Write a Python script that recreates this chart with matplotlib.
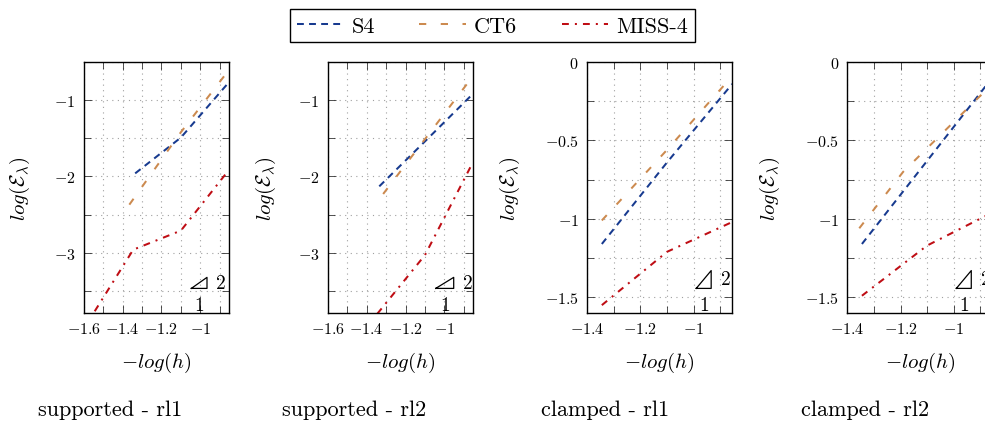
import matplotlib
matplotlib.use("Agg")
import matplotlib.pyplot as plt
from matplotlib.ticker import MultipleLocator, FuncFormatter
from matplotlib.lines import Line2D

# Captions under each panel
panel_titles = ['supported - rl1', 'supported - rl2', 'clamped - rl1', 'clamped - rl2']

# -log(h) and log(E_lambda) for each series, one list per panel
s4_x = [[-1.335, -1.1, -0.855], [-1.335, -1.1, -0.855],
        [-1.345, -1.1, -0.855], [-1.345, -1.1, -0.855]]
s4_y = [[-1.96, -1.49, -0.77], [-2.13, -1.54, -0.92],
        [-1.16, -0.64, -0.14], [-1.16, -0.63, -0.10]]

ct6_x = [[-1.365, -1.1, -0.855], [-1.315, -1.1, -0.855],
         [-1.345, -1.1, -0.855], [-1.355, -1.19, -0.855]]
ct6_y = [[-2.37, -1.42, -0.61], [-2.23, -1.51, -0.69],
         [-1.01, -0.56, -0.09], [-1.06, -0.70, -0.14]]

miss_x = [[-1.6, -1.345, -1.1, -0.855], [-1.345, -1.1, -0.855],
          [-1.345, -1.1, -0.855], [-1.345, -1.1, -0.855]]
miss_y = [[-4.0, -2.96, -2.71, -1.92], [-3.8, -3.03, -1.82],
          [-1.55, -1.21, -1.02], [-1.49, -1.17, -0.96]]

series_labels = ['S4', 'CT6', 'MISS-4']

# axis limits per panel
x_limits = [(-1.6, -0.855), (-1.6, -0.855), (-1.4, -0.855), (-1.4, -0.855)]
y_limits = [(-3.79, -0.5), (-3.79, -0.5), (-1.6, 0.0), (-1.6, 0.0)]
y_major = [1.0, 1.0, 0.5, 0.5]

# styles
colors = ['#173a8f', '#cc8a4f', '#bf0d14']
dashes = [(0, (3.4, 2.6)), (0, (3.6, 7.2)), (0, (3.4, 3.0, 1.0, 3.0))]
lw = 1.45

plt.rcParams['font.family'] = 'serif'
plt.rcParams['font.serif'] = ['cmr10']
plt.rcParams['mathtext.fontset'] = 'cm'
plt.rcParams['axes.formatter.use_mathtext'] = True
plt.rcParams['axes.unicode_minus'] = False

W, H = 985, 427
fig = plt.figure(figsize=(W / 100, H / 100), dpi=100)

ax_left_px = [83.6, 327.7, 587.2, 847.3]
ax_w_px, ax_top_px, ax_bot_px = 145, 63, 314

# slope triangle, in axes fraction
tri_top = [0.142, 0.142, 0.169, 0.169]
tri_x0 = [0.743, 0.745, 0.752, 0.752]
tri_x1 = [0.851, 0.869, 0.855, 0.855]
ylabel_x = [-0.356, -0.343, -0.45, -0.45]


def fmt(v, pos):
    return r'$\mathdefault{%g}$' % (round(v, 3) + 0.0)


for i in range(4):
    ax = fig.add_axes([ax_left_px[i] / W, 1 - ax_bot_px / H,
                       ax_w_px / W, (ax_bot_px - ax_top_px) / H])
    for xs, ys, c, d, lab in [(s4_x[i], s4_y[i], colors[0], dashes[0], series_labels[0]),
                              (ct6_x[i], ct6_y[i], colors[1], dashes[1], series_labels[1]),
                              (miss_x[i], miss_y[i], colors[2], dashes[2], series_labels[2])]:
        ax.plot(xs, ys, color=c, linestyle=d, lw=lw, dash_capstyle='butt', label=lab)

    ax.set_xlim(*x_limits[i])
    ax.set_ylim(*y_limits[i])
    ax.xaxis.set_major_locator(MultipleLocator(0.2))
    ax.xaxis.set_minor_locator(MultipleLocator(0.1))
    ax.yaxis.set_major_locator(MultipleLocator(y_major[i]))
    ax.yaxis.set_minor_locator(MultipleLocator(y_major[i] / 2))
    ax.xaxis.set_major_formatter(FuncFormatter(fmt))
    ax.yaxis.set_major_formatter(FuncFormatter(fmt))

    ax.grid(True, which='both', color='#a0a0a0', lw=0.8, linestyle=(0, (1, 4)))
    ax.tick_params(which='both', direction='in', top=True, right=True,
                   width=0.6, labelsize=11.5, color='#333333')
    ax.tick_params(which='major', length=6, pad=6)
    ax.tick_params(which='minor', length=5)
    for s in ax.spines.values():
        s.set_linewidth(1.0)

    ax.set_xlabel(r'$-log(h)$', fontsize=15)
    ax.set_ylabel(r'$log(\mathcal{E}_{\lambda})$', fontsize=15)
    ax.xaxis.set_label_coords(0.5, -0.145)
    ax.yaxis.set_label_coords(ylabel_x[i], 0.5)

    # slope triangle annotation
    ax.plot([tri_x0[i], tri_x1[i], tri_x1[i], tri_x0[i]],
            [0.098, 0.098, tri_top[i], 0.098],
            color='black', lw=0.9, transform=ax.transAxes, clip_on=False)
    ax.text(tri_x1[i] + 0.095, (0.098 + tri_top[i]) / 2, r'$2$', fontsize=14,
            ha='center', va='center', transform=ax.transAxes)
    ax.text((tri_x0[i] + tri_x1[i]) / 2, 0.032, r'$1$', fontsize=14,
            ha='center', va='center', transform=ax.transAxes)

    fig.text((ax_left_px[i] - 46) / W, 0.026, panel_titles[i], fontsize=16,
             ha='left', va='baseline')

handles = [Line2D([], [], color=colors[k], linestyle=dashes[k], lw=lw,
                  dash_capstyle='butt') for k in range(3)]
leg = fig.legend(handles, series_labels, loc='center', bbox_to_anchor=(0.5, 0.937),
                 ncol=3, fontsize=16, frameon=True, fancybox=False, framealpha=1,
                 edgecolor='black', handlelength=2.1, handletextpad=0.35,
                 columnspacing=2.0, borderpad=0.3)
leg.get_frame().set_linewidth(1.0)

fig.savefig('out.png', dpi=100)
